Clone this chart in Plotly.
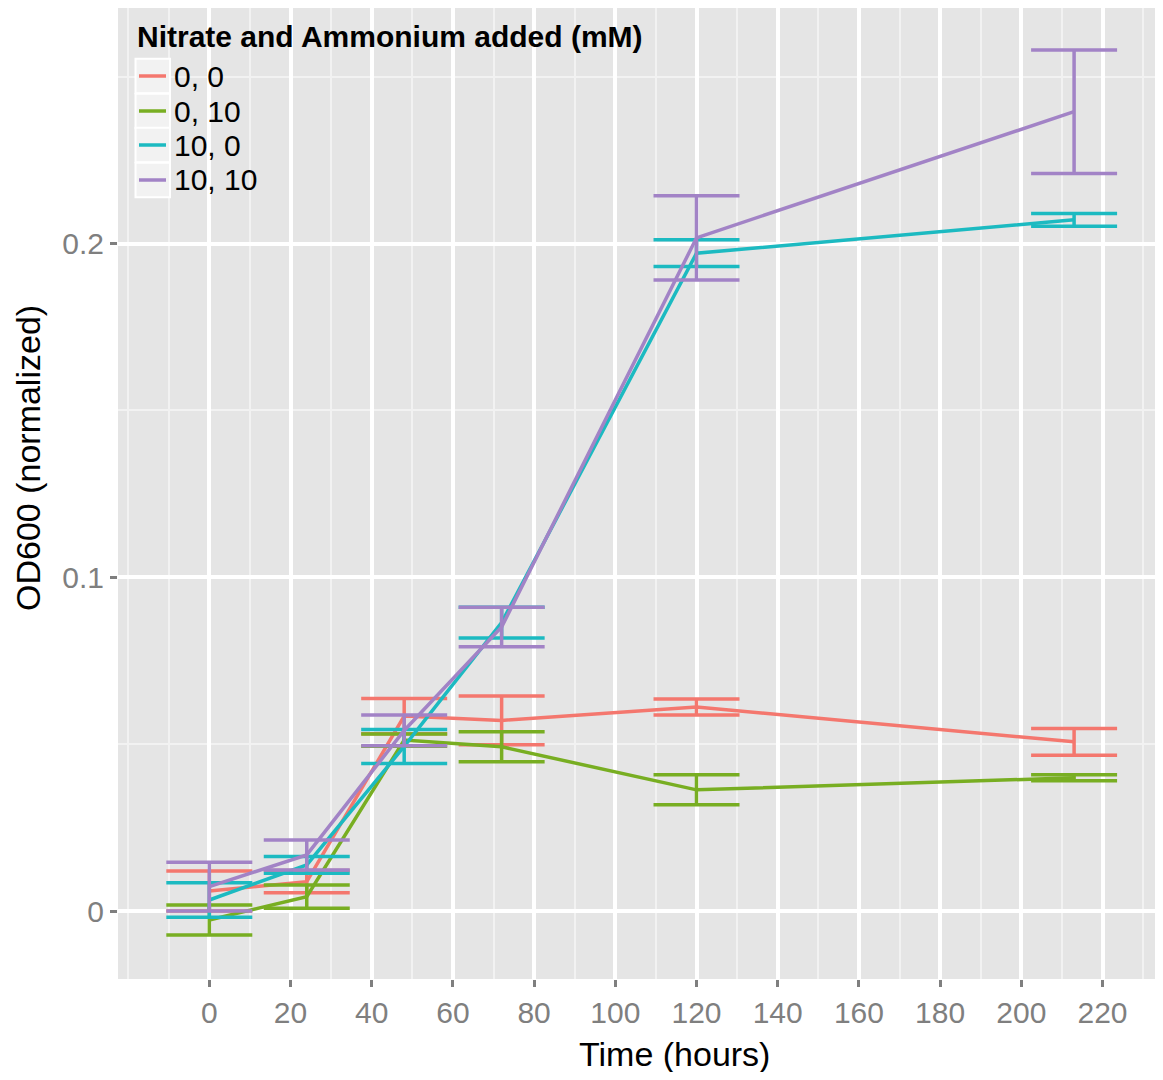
import plotly.graph_objects as go

# ---- data ----
time_hours = [0, 24, 48, 72, 120, 213]
series_names = ["0, 0", "0, 10", "10, 0", "10, 10"]
od_00 = [0.0060, 0.0088, 0.0584, 0.0571, 0.0611, 0.0507]
se_00 = [0.0060, 0.0033, 0.0053, 0.0073, 0.0024, 0.0040]
od_010 = [-0.0027, 0.0043, 0.0512, 0.0492, 0.0363, 0.0399]
se_010 = [0.0045, 0.0035, 0.0018, 0.0045, 0.0045, 0.0009]
od_100 = [0.0033, 0.0138, 0.0493, 0.0864, 0.1971, 0.2071]
se_100 = [0.0052, 0.0025, 0.0051, 0.0046, 0.0040, 0.0019]
od_1010 = [0.0073, 0.0168, 0.0541, 0.0851, 0.2017, 0.2395]
se_1010 = [0.0073, 0.0045, 0.0046, 0.0059, 0.0126, 0.0185]

x_ticks = [0, 20, 40, 60, 80, 100, 120, 140, 160, 180, 200, 220]
y_ticks = [0, 0.1, 0.2]
y_tick_labels = ["0", "0.1", "0.2"]
legend_title = "Nitrate and Ammonium added (mM)"

colors = ["#F4776E", "#78AE22", "#1CBAC1", "#A283C6"]
means = [od_00, od_010, od_100, od_1010]
errors = [se_00, se_010, se_100, se_1010]

FONT = "Liberation Sans, Arial, Helvetica, sans-serif"

fig = go.Figure()
for name, m, e, c in zip(series_names, means, errors, colors):
    fig.add_trace(go.Scatter(
        x=time_hours, y=m, mode="lines", name=name, showlegend=False,
        line=dict(color=c, width=3.5),
        error_y=dict(type="data", array=e, visible=True, color=c, thickness=3.5, width=43),
    ))

# page has an 8px body margin; figure is placed at (8, 8); keep total within the window
OFF = 8
W, H = 1163 - OFF, 1080 - 2 * OFF
PANEL_L, PANEL_R, PANEL_T, PANEL_B = 118, 1163, 8, 979  # page pixels
ML = PANEL_L - OFF
MR = (OFF + W) - PANEL_R
MT = PANEL_T - OFF
MB = (OFF + H) - PANEL_B
pw = PANEL_R - PANEL_L
ph = PANEL_B - PANEL_T

def px_x(p):
    return (p - PANEL_L) / pw

def px_y(p):
    return 1 - (p - PANEL_T) / ph

shapes = []
annotations = []

# manual legend (ggplot style)
row_centers = [76, 111, 145, 180]
row_h = 34.5
for i, (name, c) in enumerate(zip(series_names, colors)):
    yc = row_centers[i]
    shapes.append(dict(type="rect", xref="paper", yref="paper",
                       x0=px_x(135.5), x1=px_x(170), y0=px_y(yc + row_h / 2), y1=px_y(yc - row_h / 2),
                       fillcolor="#F2F2F2", line=dict(color="white", width=2), layer="above"))
    shapes.append(dict(type="line", xref="paper", yref="paper",
                       x0=px_x(139), x1=px_x(166), y0=px_y(yc), y1=px_y(yc),
                       line=dict(color=c, width=3.5), layer="above"))
    annotations.append(dict(text=name, xref="paper", yref="paper", x=px_x(172), y=px_y(yc),
                            xanchor="left", yanchor="middle", showarrow=False,
                            font=dict(size=30, color="black")))
annotations.append(dict(text="<b>" + legend_title + "</b>", xref="paper", yref="paper",
                        x=px_x(135), y=px_y(36), xanchor="left", yanchor="middle", showarrow=False,
                        font=dict(size=30, color="black")))

annotations.append(dict(text="Time (hours)", xref="paper", yref="paper", x=px_x(674), y=px_y(1054),
                        xanchor="center", yanchor="middle", showarrow=False,
                        font=dict(size=34, color="black")))
annotations.append(dict(text="OD600 (normalized)", xref="paper", yref="paper", x=px_x(28), y=px_y(458),
                        xanchor="center", yanchor="middle", textangle=-90, showarrow=False,
                        font=dict(size=34, color="black")))

fig.update_layout(
    width=W, height=H,
    margin=dict(l=ML, r=MR, t=MT, b=MB, pad=0),
    paper_bgcolor="white", plot_bgcolor="#E5E5E5",
    font=dict(family=FONT, size=30, color="black"),
    showlegend=False,
    shapes=shapes,
    annotations=annotations,
    xaxis=dict(
        range=[-22.49, 234.9], tickvals=x_ticks, ticks="outside", ticklen=7, tickwidth=2.5,
        tickcolor="#7F7F7F", tickfont=dict(size=30, color="#7F7F7F"),
        showgrid=True, gridcolor="white", gridwidth=3.5, zeroline=False, showline=False,
        minor=dict(dtick=10, tick0=0, showgrid=True, gridcolor="#F2F2F2", gridwidth=1.5, ticks=""),
    ),
    yaxis=dict(
        range=[(911 - PANEL_B) / 3337.5, (911 - PANEL_T) / 3337.5], tickvals=y_ticks,
        ticktext=y_tick_labels, ticks="outside",
        ticklen=7, tickwidth=2.5, tickcolor="#7F7F7F", tickfont=dict(size=30, color="#7F7F7F"),
        showgrid=True, gridcolor="white", gridwidth=3.5, zeroline=False, showline=False,
        minor=dict(dtick=0.05, tick0=0, showgrid=True, gridcolor="#F2F2F2", gridwidth=1.5, ticks=""),
    ),
)

fig.write_html("out.html")
